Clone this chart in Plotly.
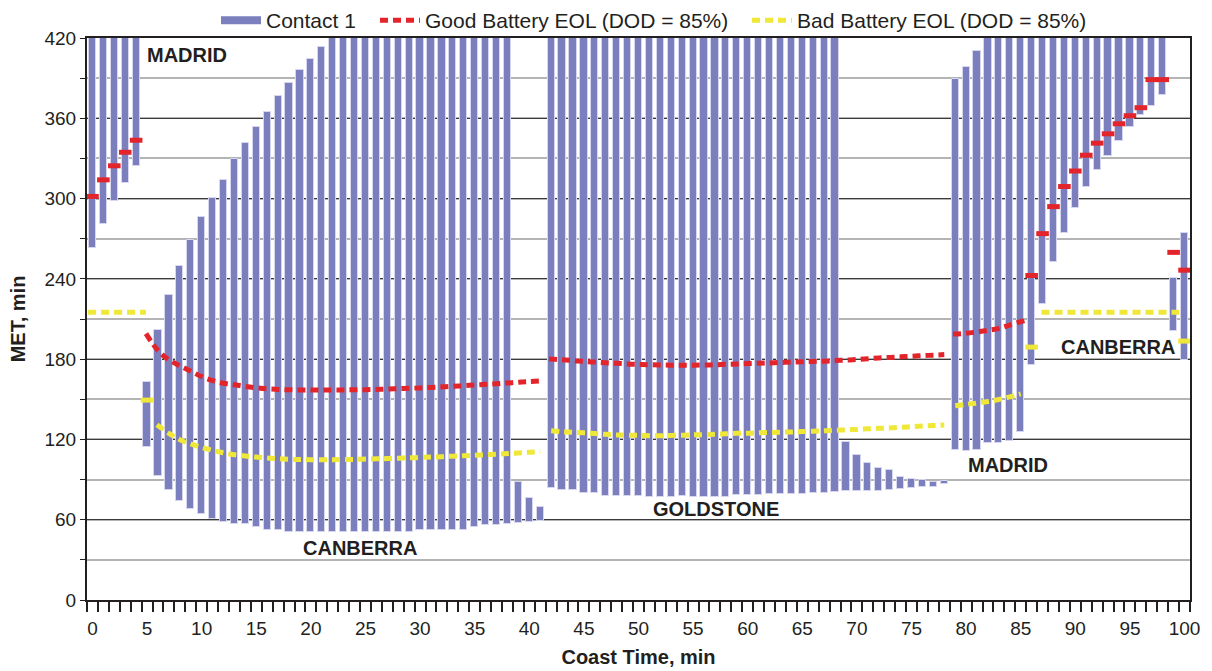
import plotly.graph_objects as go

# ---------------- data ----------------
coast_time = list(range(0, 101))

contact_low = [
    263, 281, 298, 312, 324,                      # 0-4 Madrid
    114.3, 92.7, 82, 74.3, 68.3, 64.5, 60.5, 58.5, 56.8, 56.8,   # 5-14
    54.8, 52.5, 52.5, 51, 51, 51, 51, 51, 51, 51,                # 15-24
    51, 51, 51, 51, 51, 52.5, 52.5, 52.5, 52.5, 52.5,            # 25-34
    54.5, 55.7, 55.7, 56.8, 57.5, 58.5, 59.2,                    # 35-41
    84, 82, 82, 80, 80, 78, 78, 78, 78, 77,                      # 42-51
    77, 77, 78, 77, 77, 77, 77, 78.8, 78.8, 78.8,                # 52-61
    79.3, 79.3, 79.3, 79.3, 80, 80, 80.5,                        # 62-68
    81.3, 81.8, 81.8, 81.8, 82.3, 83, 83.8, 84.3, 84.3, 86.5,    # 69-78
    112, 111.5, 112, 117, 117.7, 119, 125.8, 176, 221.5, 252.5,  # 79-88
    274.5, 293, 308.5, 321.5, 331.5, 343, 353.5, 362.5, 369, 377.5,  # 89-98
    201, 179.5,                                                  # 99-100
]
contact_high = [
    420, 420, 420, 420, 420,
    163, 202, 228, 249.5, 269, 286.5, 300.5, 314, 329.5, 341.5,
    353.5, 365, 376.5, 386.5, 396, 404, 413.5, 420, 420, 420,
    420, 420, 420, 420, 420, 420, 420, 420, 420, 420,
    420, 420, 420, 420, 88, 76, 69.3,
    420, 420, 420, 420, 420, 420, 420, 420, 420, 420,
    420, 420, 420, 420, 420, 420, 420, 420, 420, 420,
    420, 420, 420, 420, 420, 420, 420,
    118, 108, 102.5, 98.5, 96.8, 92, 90.5, 89.5, 88.5, 88.8,
    389, 398.5, 410.5, 420, 420, 420, 420, 420, 420, 420,
    420, 420, 420, 420, 420, 420, 420, 420, 420, 420,
    240.5, 274,
]

# Good battery EOL – isolated points
good_pts_x = [0, 1, 2, 3, 4, 86, 87, 88, 89, 90, 91, 92, 93, 94, 95, 96, 97, 98, 99, 100]
good_pts_y = [301.6, 314, 324.5, 334.6, 343.6, 242.5, 273.8, 294, 309, 320.6,
              332.4, 341.4, 348.4, 355.9, 361.9, 367.9, 388.9, 388.9, 259.8, 246.5]

# Good battery EOL – continuous pieces
good_can_x = [4.9, 6, 7, 8, 9, 10, 11, 12, 13, 14, 15, 16, 17, 18, 19, 20, 21, 22, 23, 24,
              25, 26, 27, 28, 29, 30, 31, 32, 33, 34, 35, 36, 37, 38, 39, 40, 41.3]
good_can_y = [199, 186.5, 179.5, 175, 171, 167, 164, 162, 160.8, 159.6, 158.6, 157.8, 157.4,
              157.1, 157, 157, 157, 157, 157, 157.1, 157.2, 157.4, 157.6, 157.9, 158.2, 158.5,
              158.9, 159.3, 159.7, 160.2, 160.7, 161.2, 161.7, 162.2, 162.7, 163.2, 163.8]
good_gold_x = [41.8, 43, 44, 45, 46, 47, 48, 49, 50, 51, 52, 53, 54, 55, 56, 57, 58, 59, 60,
               61, 62, 63, 64, 65, 66, 67, 68, 69, 70, 71, 72, 73, 74, 75, 76, 77, 78]
good_gold_y = [180.2, 179.5, 178.9, 178.3, 177.8, 177.3, 176.9, 176.4, 176.1, 175.8, 175.6,
               175.5, 175.5, 175.5, 175.6, 175.8, 176.1, 176.4, 176.7, 176.9, 177.2, 177.5,
               177.8, 178.1, 178.3, 178.5, 178.9, 179.3, 179.7, 180.3, 180.9, 181.3, 181.7,
               182.2, 182.6, 183, 183.4]
good_mad_x = [78.8, 80, 81, 82, 83, 84, 85.4]
good_mad_y = [198.7, 199.3, 200.3, 201.5, 203, 205.5, 209]

# Bad battery EOL
bad_pts_x = [5, 86, 100]
bad_pts_y = [149.4, 189, 193.5]
bad_flat1_x = [-0.4, 4.9]
bad_flat1_y = [215, 215]
bad_flat2_x = [86.9, 99.5]
bad_flat2_y = [215, 215]
bad_can_x = [5.9, 7, 8, 9, 10, 11, 12, 13, 14, 15, 16, 17, 18, 19, 20, 21, 22, 23, 24, 25,
             26, 27, 28, 29, 30, 31, 32, 33, 34, 35, 36, 37, 38, 39, 40, 41]
bad_can_y = [131, 124.5, 119.8, 116.6, 114, 111.8, 110, 108.6, 107.6, 106.8, 106.1, 105.6,
             105.2, 105, 104.9, 104.9, 104.9, 105, 105.1, 105.3, 105.5, 105.7, 106, 106.2,
             106.5, 106.8, 107.1, 107.5, 107.8, 108.2, 108.6, 109, 109.4, 109.9, 110.4, 110.9]
bad_gold_x = [42, 43, 44, 45, 46, 47, 48, 49, 50, 51, 52, 53, 54, 55, 56, 57, 58, 59, 60,
              61, 62, 63, 64, 65, 66, 67, 68, 69, 70, 71, 72, 73, 74, 75, 76, 77, 78]
bad_gold_y = [126.4, 125.8, 125.3, 124.9, 124.4, 123.8, 123.4, 123.2, 123, 122.8, 122.8, 123,
              123.2, 123.4, 123.6, 123.8, 124.2, 124.6, 124.7, 125, 125.2, 125.4, 125.6,
              125.9, 126.2, 126.4, 126.9, 127.1, 127.5, 127.9, 128.3, 128.6, 129, 129.5, 130,
              130.4, 130.7]
bad_mad_x = [79, 80, 81, 82, 83, 84, 85]
bad_mad_y = [145.2, 146.2, 147.2, 148.3, 149.8, 151.8, 154]

station_labels = ["MADRID", "CANBERRA", "GOLDSTONE", "MADRID", "CANBERRA"]
station_x = [8.7, 24.5, 57.1, 83.8, 93.9]
station_y = [407, 39, 68.3, 101, 189]

x_tick_vals = list(range(0, 101, 5))
y_tick_vals = list(range(0, 421, 60))

# ---------------- styles ----------------
BLUE = "#7b7fbe"
RED = "#e3242b"
YELLOW = "#efe838"
TXT = "#231f20"
FONT = "Liberation Sans, Arial, Helvetica, sans-serif"
DASH = "8px,5px"

fig = go.Figure()

fig.add_trace(go.Bar(
    x=coast_time,
    y=[h - l for h, l in zip(contact_high, contact_low)],
    base=contact_low,
    width=0.66,
    marker=dict(color=BLUE, line=dict(color="#d6d7ef", width=1)),
    showlegend=False, hoverinfo="skip",
))

# legend proxies (one legend box each, placed like the original)
fig.add_trace(go.Scatter(x=[None], y=[None], mode="lines", name="Contact 1",
                         line=dict(color=BLUE, width=8), legend="legend"))
fig.add_trace(go.Scatter(x=[None], y=[None], mode="lines", name="Good Battery EOL (DOD = 85%)",
                         line=dict(color=RED, width=5, dash=DASH), legend="legend2"))
fig.add_trace(go.Scatter(x=[None], y=[None], mode="lines", name="Bad Battery EOL (DOD = 85%)",
                         line=dict(color=YELLOW, width=5, dash=DASH), legend="legend3"))

for xs, ys in [(good_can_x, good_can_y), (good_gold_x, good_gold_y), (good_mad_x, good_mad_y)]:
    fig.add_trace(go.Scatter(x=xs, y=ys, mode="lines", showlegend=False,
                             line=dict(color=RED, width=5, dash=DASH, shape="spline")))
for xs, ys in [(bad_flat1_x, bad_flat1_y), (bad_flat2_x, bad_flat2_y), (bad_can_x, bad_can_y),
               (bad_gold_x, bad_gold_y), (bad_mad_x, bad_mad_y)]:
    fig.add_trace(go.Scatter(x=xs, y=ys, mode="lines", showlegend=False,
                             line=dict(color=YELLOW, width=5, dash=DASH, shape="spline")))

fig.add_trace(go.Scatter(x=good_pts_x, y=good_pts_y, mode="markers", showlegend=False,
                         marker=dict(symbol="line-ew", size=9, line=dict(color=RED, width=5))))
fig.add_trace(go.Scatter(x=bad_pts_x, y=bad_pts_y, mode="markers", showlegend=False,
                         marker=dict(symbol="line-ew", size=9, line=dict(color=YELLOW, width=5))))

for t, xv, yv in zip(station_labels, station_x, station_y):
    fig.add_annotation(x=xv, y=yv, xref="x", yref="y", text="<b>%s</b>" % t, showarrow=False,
                       font=dict(family=FONT, size=20, color=TXT))

legend_common = dict(orientation="h", xref="container", yref="container", y=1.0,
                     xanchor="left", yanchor="top", font=dict(size=21, color=TXT),
                     bgcolor="rgba(0,0,0,0)", itemwidth=40)

fig.update_layout(
    width=1212, height=671,
    margin=dict(l=87, r=22, t=38, b=71, autoexpand=False),
    paper_bgcolor="white", plot_bgcolor="white",
    font=dict(family=FONT, size=19, color=TXT),
    bargap=0,
    legend=dict(x=216 / 1212, **legend_common),
    legend2=dict(x=375 / 1212, **legend_common),
    legend3=dict(x=747 / 1212, **legend_common),
    xaxis=dict(
        range=[-0.5, 100.5], tickmode="array", tickvals=x_tick_vals,
        ticks="outside", ticklen=10, tickcolor="rgba(0,0,0,0)",
        showgrid=False, zeroline=False,
        showline=True, linecolor="#231f20", linewidth=2, mirror=True,
        minor=dict(tickmode="array", tickvals=[i - 0.5 for i in range(102)],
                   ticks="outside", ticklen=10, tickwidth=1.5, tickcolor="#231f20"),
        title=dict(text="<b>Coast Time, min</b>", standoff=12, font=dict(size=20)),
        tickfont=dict(size=19),
    ),
    yaxis=dict(
        range=[0, 420], tickmode="array", tickvals=y_tick_vals,
        ticks="outside", ticklen=5, tickcolor="#231f20",
        showgrid=True, gridcolor="#3a3a3a", gridwidth=1.3, zeroline=False,
        showline=True, linecolor="#231f20", linewidth=2, mirror=True,
        minor=dict(dtick=30, tick0=0, showgrid=True, gridcolor="#b4b4b4", gridwidth=2,
                   ticks="outside", ticklen=5, tickcolor="#231f20"),
        title=dict(text="<b>MET, min</b>", standoff=13, font=dict(size=20)),
        tickfont=dict(size=19),
    ),
)

fig.write_html("out.html")
